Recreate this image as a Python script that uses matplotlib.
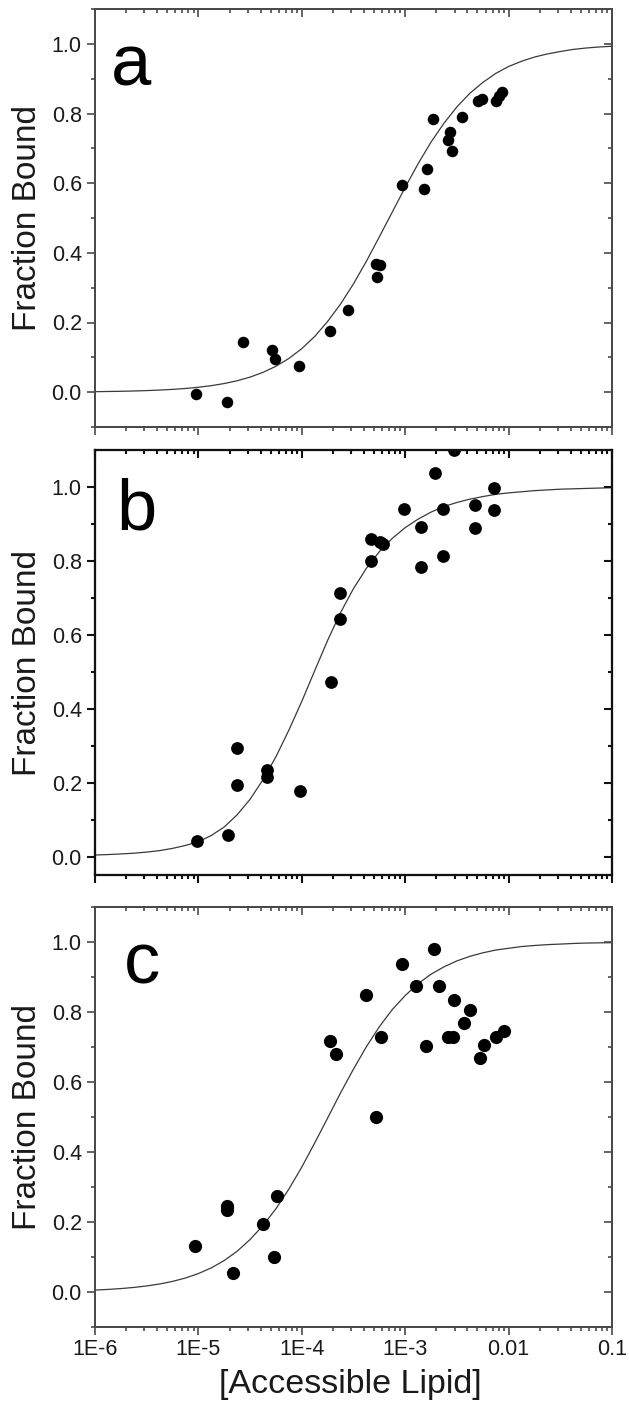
import matplotlib
matplotlib.use('Agg')
import matplotlib.pyplot as plt
from matplotlib.ticker import FixedLocator, LogLocator, NullFormatter, FormatStrFormatter

plt.rcParams['font.family'] = ['Liberation Sans', 'DejaVu Sans']

# ---------------- data ----------------
xa = [9.5e-6, 1.87e-5, 2.73e-5, 5.15e-5, 5.48e-5, 9.4e-5, 1.87e-4, 2.77e-4, 5.18e-4, 5.76e-4,
      5.36e-4, 9.25e-4, 1.52e-3, 1.64e-3, 1.84e-3, 2.61e-3, 2.70e-3, 2.83e-3, 3.56e-3, 5.09e-3,
      5.47e-3, 7.62e-3, 8.04e-3, 8.63e-3]
ya = [-0.005, -0.027, 0.143, 0.120, 0.096, 0.075, 0.177, 0.237, 0.367, 0.365,
      0.331, 0.594, 0.584, 0.640, 0.785, 0.723, 0.746, 0.693, 0.790, 0.835,
      0.843, 0.837, 0.849, 0.861]

xb = [9.6e-6, 1.92e-5, 2.35e-5, 2.35e-5, 4.62e-5, 4.62e-5, 9.7e-5, 1.93e-4, 2.32e-4, 2.32e-4,
      4.69e-4, 4.69e-4, 5.69e-4, 6.05e-4, 9.7e-4, 1.41e-3, 1.41e-3, 1.95e-3, 2.33e-3, 2.33e-3,
      2.99e-3, 4.74e-3, 4.74e-3, 7.19e-3, 7.19e-3]
yb = [0.042, 0.059, 0.295, 0.193, 0.234, 0.216, 0.178, 0.471, 0.712, 0.644,
      0.860, 0.800, 0.851, 0.845, 0.941, 0.893, 0.784, 1.037, 0.940, 0.812,
      1.100, 0.950, 0.888, 0.998, 0.938]

xc = [9.33e-6, 1.89e-5, 1.89e-5, 2.18e-5, 4.26e-5, 5.33e-5, 5.73e-5, 1.87e-4, 2.13e-4, 4.17e-4,
      5.21e-4, 5.86e-4, 9.33e-4, 1.28e-3, 1.60e-3, 1.91e-3, 2.12e-3, 2.61e-3, 2.93e-3, 2.98e-3,
      3.72e-3, 4.26e-3, 5.33e-3, 5.73e-3, 7.62e-3, 8.95e-3]
yc = [0.131, 0.247, 0.235, 0.055, 0.195, 0.100, 0.273, 0.717, 0.679, 0.848,
      0.500, 0.729, 0.936, 0.874, 0.702, 0.979, 0.874, 0.729, 0.729, 0.833,
      0.770, 0.805, 0.670, 0.705, 0.729, 0.745]

# fitted curves, read at eighth-decade steps
curve_x = [1e-6, 1.334e-6, 1.778e-6, 2.371e-6, 3.162e-6, 4.217e-6, 5.623e-6, 7.499e-6,
           1e-5, 1.334e-5, 1.778e-5, 2.371e-5, 3.162e-5, 4.217e-5, 5.623e-5, 7.499e-5,
           1e-4, 1.334e-4, 1.778e-4, 2.371e-4, 3.162e-4, 4.217e-4, 5.623e-4, 7.499e-4,
           1e-3, 1.334e-3, 1.778e-3, 2.371e-3, 3.162e-3, 4.217e-3, 5.623e-3, 7.499e-3,
           0.01, 0.01334, 0.01778, 0.02371, 0.03162, 0.04217, 0.05623, 0.07499, 0.1]
curve_a = [0.0014, 0.0019, 0.0025, 0.0034, 0.0045, 0.0060, 0.0080, 0.0106,
           0.0141, 0.0187, 0.0248, 0.0328, 0.0432, 0.0569, 0.0744, 0.0968,
           0.125, 0.160, 0.203, 0.253, 0.311, 0.376, 0.446, 0.517,
           0.588, 0.656, 0.718, 0.772, 0.819, 0.858, 0.889, 0.915,
           0.935, 0.950, 0.962, 0.971, 0.978, 0.984, 0.988, 0.991, 0.993]
curve_b = [0.004, 0.0053, 0.007, 0.009, 0.012, 0.016, 0.022, 0.030,
           0.040, 0.057, 0.080, 0.113, 0.155, 0.208, 0.270, 0.342,
           0.420, 0.503, 0.585, 0.660, 0.725, 0.780, 0.825, 0.861,
           0.890, 0.913, 0.932, 0.947, 0.958, 0.967, 0.974, 0.980,
           0.984, 0.987, 0.990, 0.992, 0.994, 0.995, 0.996, 0.997, 0.998]
curve_c = [0.0055, 0.0074, 0.0098, 0.0130, 0.0173, 0.0229, 0.0303, 0.0400,
           0.0527, 0.0690, 0.090, 0.1165, 0.150, 0.190, 0.238, 0.294,
           0.357, 0.426, 0.497, 0.569, 0.637, 0.701, 0.758, 0.807,
           0.847, 0.881, 0.908, 0.929, 0.946, 0.959, 0.969, 0.977,
           0.982, 0.987, 0.990, 0.9925, 0.994, 0.9958, 0.997, 0.9976, 0.998]

xtick_vals = [1e-6, 1e-5, 1e-4, 1e-3, 0.01, 0.1]
xtick_labels = ['1E-6', '1E-5', '1E-4', '1E-3', '0.01', '0.1']
ytick_major = [0.0, 0.2, 0.4, 0.6, 0.8, 1.0]
letters = ['a', 'b', 'c']

# ---------------- layout ----------------
W, H = 629, 1411
fig = plt.figure(figsize=(W / 100, H / 100), dpi=100)
TXT = '#1a1a1a'


def rect(l, t, r, b):
    return [l / W, 1 - b / H, (r - l) / W, (b - t) / H]


panels = [
    dict(box=(95, 9, 612, 427), ylim=(-0.1, 1.1), x=xa, y=ya, cy=curve_a, ms=8.3,
         spine='#4a4a4a', lw=1.2, lpos=(111, 85), ymin=[-0.1, 0.1, 0.3, 0.5, 0.7, 0.9, 1.1],
         hide_major=[2], hide_minor=[3]),
    dict(box=(95, 450, 612, 875), ylim=(-0.05, 1.1), x=xb, y=yb, cy=curve_b, ms=9.2,
         spine='#111111', lw=1.5, lpos=(116, 530), ymin=[0.1, 0.3, 0.5, 0.7, 0.9],
         hide_major=[], hide_minor=[]),
    dict(box=(95, 907, 612, 1327), ylim=(-0.1, 1.1), x=xc, y=yc, cy=curve_c, ms=9.5,
         spine='#4a4a4a', lw=1.2, lpos=(124, 983), ymin=[-0.1, 0.1, 0.3, 0.5, 0.7, 0.9, 1.1],
         hide_major=[3, 4, 5], hide_minor=[4, 5]),
]

for i, p in enumerate(panels):
    ax = fig.add_axes(rect(*p['box']))
    ax.set_xscale('log')
    ax.set_xlim(1e-6, 0.1)
    ax.set_ylim(*p['ylim'])

    ax.plot(curve_x, p['cy'], color='#3a3a3a', lw=0.9, zorder=2)
    ax.plot(p['x'], p['y'], 'o', color='black', ms=p['ms'], mew=0, zorder=3)

    # x ticks
    ax.xaxis.set_major_locator(FixedLocator(xtick_vals))
    ax.xaxis.set_minor_locator(LogLocator(base=10, subs=[2, 3, 4, 5, 6, 7, 8, 9], numticks=20))
    ax.xaxis.set_minor_formatter(NullFormatter())
    if i == 2:
        ax.set_xticklabels(xtick_labels)
    else:
        ax.set_xticklabels([''] * len(xtick_vals))

    # y ticks
    ax.yaxis.set_major_locator(FixedLocator(ytick_major))
    ax.yaxis.set_minor_locator(FixedLocator(p['ymin']))
    ax.yaxis.set_major_formatter(FormatStrFormatter('%.1f'))

    ax.tick_params(axis='both', which='both', direction='out', top=False, right=False,
                   colors=p['spine'], labelcolor=TXT, labelsize=15.5, width=p['lw'])
    ax.tick_params(axis='both', which='major', length=6)
    ax.tick_params(axis='both', which='minor', length=3.2)
    ax.tick_params(axis='x', which='major', pad=2.5)
    ax.tick_params(axis='y', which='major', pad=3.5)

    for s in ax.spines.values():
        s.set_color(p['spine'])
        s.set_linewidth(p['lw'])

    # hide a few left-side tick marks that are missing in the original
    mt = ax.yaxis.get_major_ticks(len(ytick_major))
    for k in p['hide_major']:
        mt[k].tick1line.set_visible(False)
    nt = ax.yaxis.get_minor_ticks(len(p['ymin']))
    for k in p['hide_minor']:
        nt[k].tick1line.set_visible(False)

    # top axis: inward ticks
    axt = ax.twiny()
    axt.set_xscale('log')
    axt.set_xlim(1e-6, 0.1)
    axt.xaxis.set_major_locator(FixedLocator(xtick_vals))
    axt.xaxis.set_minor_locator(LogLocator(base=10, subs=[2, 3, 4, 5, 6, 7, 8, 9], numticks=20))
    axt.xaxis.set_minor_formatter(NullFormatter())
    axt.tick_params(axis='x', which='both', direction='in', top=True, bottom=False,
                    labeltop=False, labelbottom=False, colors=p['spine'], width=p['lw'])
    axt.tick_params(axis='x', which='major', length=6)
    axt.tick_params(axis='x', which='minor', length=3.2)

    # right axis: inward ticks
    axr = ax.twinx()
    axr.set_ylim(*p['ylim'])
    axr.yaxis.set_major_locator(FixedLocator(ytick_major))
    axr.yaxis.set_minor_locator(FixedLocator(p['ymin']))
    axr.tick_params(axis='y', which='both', direction='in', right=True, left=False,
                    labelright=False, labelleft=False, colors=p['spine'], width=p['lw'])
    axr.tick_params(axis='y', which='major', length=6)
    axr.tick_params(axis='y', which='minor', length=3.2)

    for a2 in (axt, axr):
        for s in a2.spines.values():
            s.set_color(p['spine'])
            s.set_linewidth(p['lw'])

    l, t, r, b = p['box']
    fig.text(28 / W, 1 - ((t + b) / 2) / H, 'Fraction Bound', rotation=90,
             ha='center', va='center', fontsize=24, color=TXT)
    fig.text(p['lpos'][0] / W, 1 - p['lpos'][1] / H, letters[i],
             ha='left', va='baseline', fontsize=52, color='black')

fig.text(350 / W, 1 - 1384 / H, '[Accessible Lipid]', ha='center', va='center',
         fontsize=24.5, color=TXT)

fig.savefig('out.png', dpi=100)
